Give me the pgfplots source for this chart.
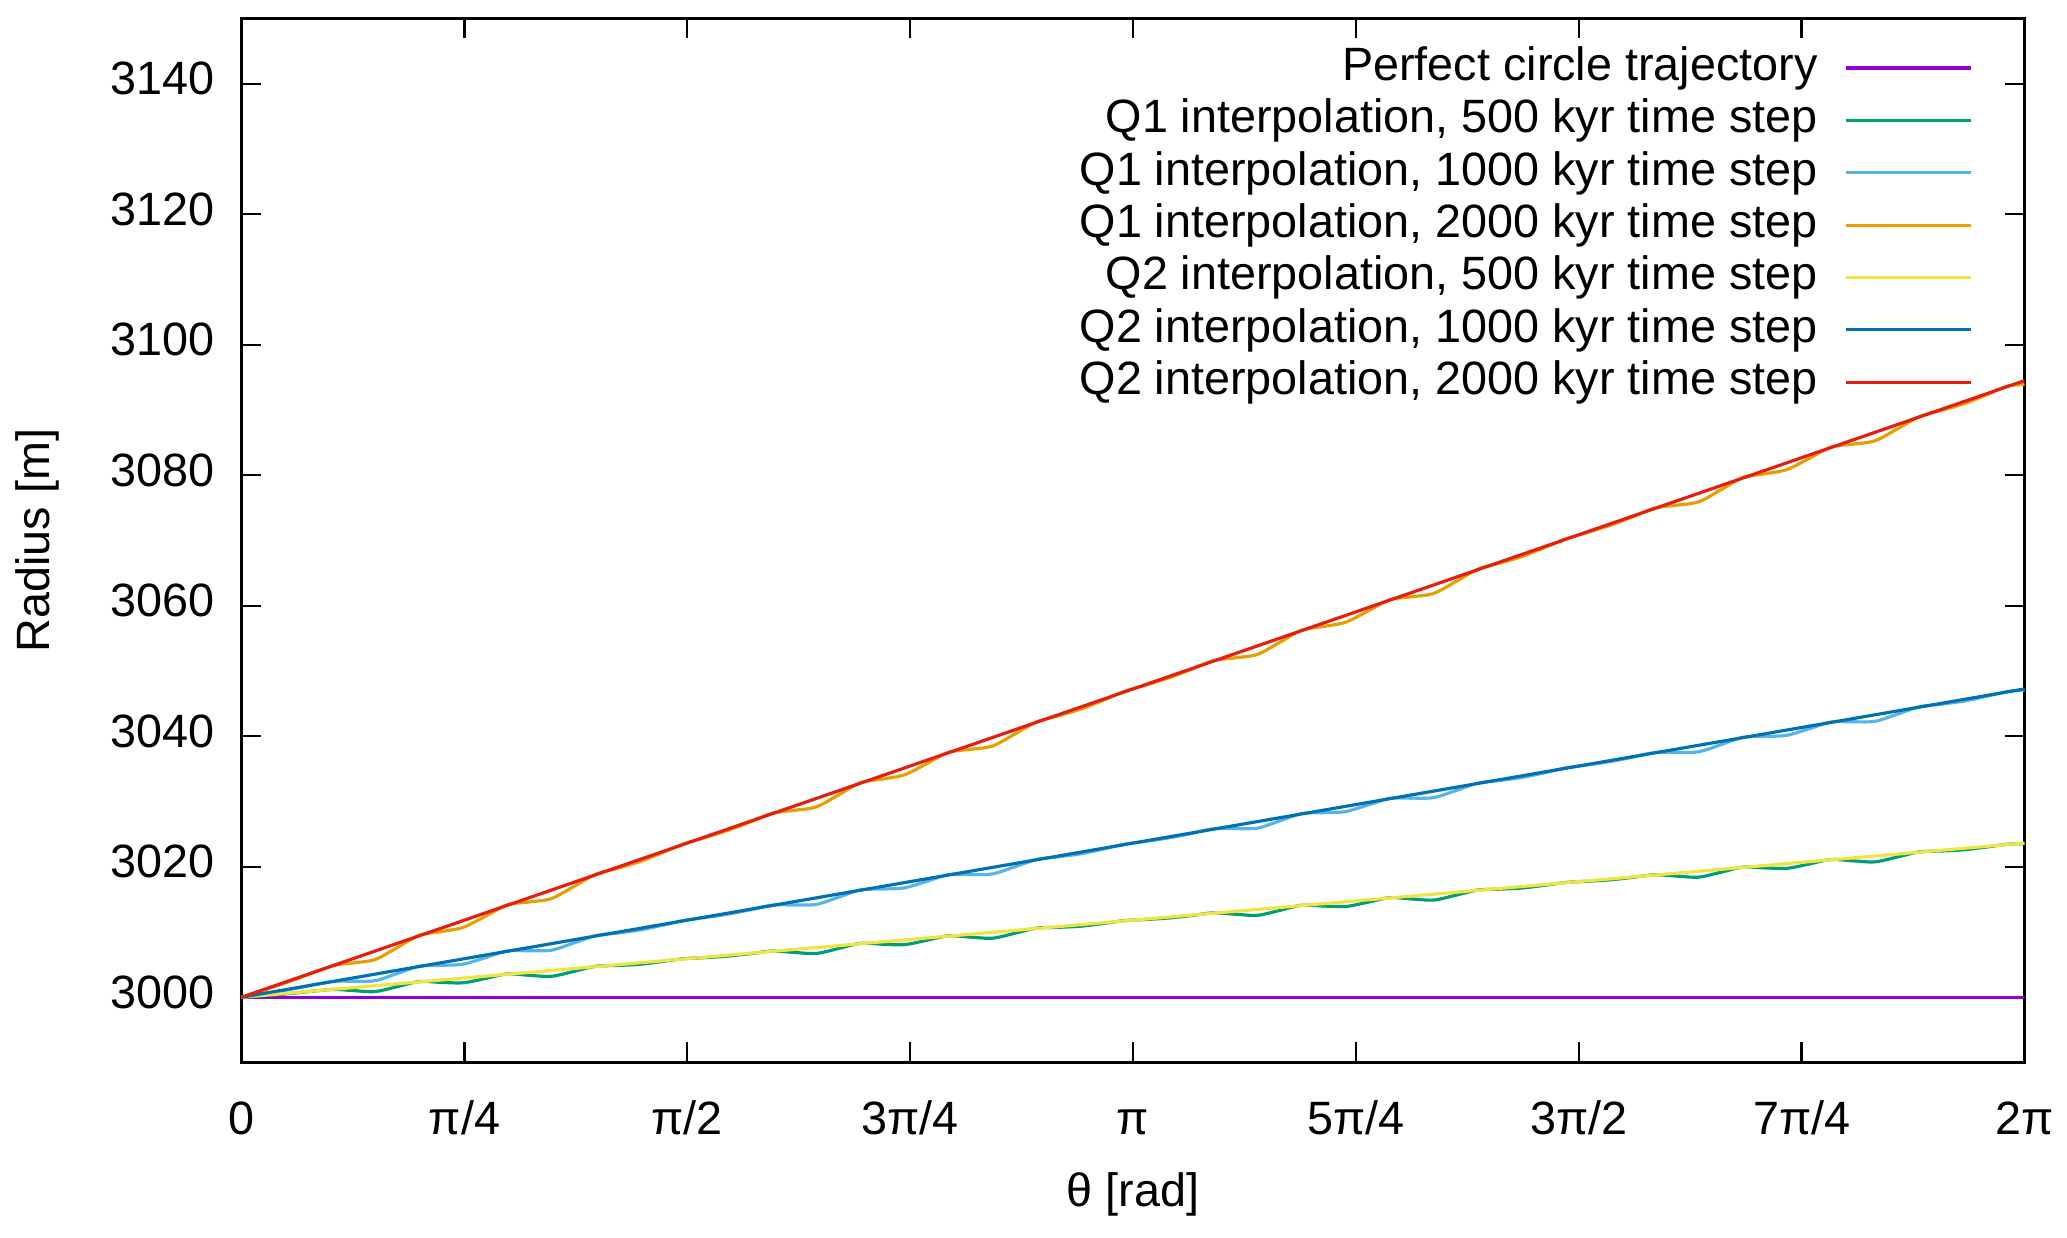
\documentclass[border=0pt]{standalone}
\usepackage{fontspec}
\setmainfont{Liberation Sans}
\usepackage{pgfplots}
\usepackage{pgfplotstable}
\pgfplotsset{compat=1.18}

\definecolor{cPurple}{HTML}{9400D3}
\definecolor{cGreen}{HTML}{009E73}
\definecolor{cLblue}{HTML}{56B4E9}
\definecolor{cOrange}{HTML}{E69F00}
\definecolor{cYellow}{HTML}{F0E442}
\definecolor{cDblue}{HTML}{0072B2}
\definecolor{cRed}{HTML}{E51E10}

% Q1 runs: theta, 500 kyr, 1000 kyr, 2000 kyr
\pgfplotstableread{
th g b o
0.0000 3000.00 3000.00 3000.00
0.1570 3000.50 3001.08 3002.23
0.3145 3001.18 3002.37 3004.73
0.3923 3001.02 3002.45 3005.25
0.4700 3000.87 3002.53 3005.77
0.5478 3001.61 3003.62 3007.59
0.6255 3002.40 3004.75 3009.48
0.7033 3002.28 3004.89 3010.06
0.7810 3002.22 3005.07 3010.71
0.8588 3002.87 3006.06 3012.40
0.9365 3003.57 3007.09 3014.16
1.0143 3003.36 3007.13 3014.60
1.0920 3003.21 3007.21 3015.12
1.1698 3003.95 3008.30 3016.94
1.2475 3004.74 3009.43 3018.83
1.3253 3004.87 3009.84 3019.77
1.4030 3005.05 3010.30 3020.77
1.4808 3005.46 3011.01 3022.11
1.5585 3005.91 3011.77 3023.51
1.6363 3006.08 3012.23 3024.51
1.7140 3006.30 3012.74 3025.58
1.7918 3006.67 3013.40 3026.85
1.8695 3007.08 3014.11 3028.19
1.9473 3006.87 3014.14 3028.64
2.0250 3006.71 3014.23 3029.16
2.1028 3007.46 3015.31 3030.98
2.1805 3008.25 3016.45 3032.86
2.2583 3008.13 3016.58 3033.44
2.3360 3008.06 3016.77 3034.09
2.4138 3008.72 3017.75 3035.78
2.4915 3009.42 3018.79 3037.54
2.5693 3009.21 3018.82 3037.99
2.6470 3009.05 3018.91 3038.51
2.7248 3009.80 3019.99 3040.33
2.8025 3010.59 3021.12 3042.22
2.8803 3010.72 3021.53 3043.16
2.9580 3010.89 3021.99 3044.16
3.0358 3011.30 3022.70 3045.50
3.1135 3011.76 3023.46 3046.90
3.1913 3011.93 3023.92 3047.90
3.2690 3012.15 3024.43 3048.97
3.3468 3012.51 3025.09 3050.24
3.4245 3012.93 3025.80 3051.57
3.5023 3012.72 3025.84 3052.02
3.5800 3012.56 3025.92 3052.54
3.6578 3013.30 3027.01 3054.36
3.7355 3014.10 3028.14 3056.25
3.8133 3013.98 3028.28 3056.83
3.8910 3013.91 3028.46 3057.48
3.9688 3014.56 3029.45 3059.17
4.0465 3015.26 3030.48 3060.93
4.1243 3015.06 3030.51 3061.38
4.2020 3014.90 3030.60 3061.90
4.2798 3015.64 3031.68 3063.72
4.3575 3016.43 3032.82 3065.61
4.4353 3016.57 3033.23 3066.55
4.5130 3016.74 3033.69 3067.55
4.5908 3017.15 3034.40 3068.89
4.6685 3017.60 3035.16 3070.28
4.7463 3017.78 3035.62 3071.28
4.8240 3018.00 3036.13 3072.35
4.9018 3018.36 3036.79 3073.62
4.9795 3018.77 3037.50 3074.96
5.0573 3018.57 3037.53 3075.41
5.1350 3018.41 3037.62 3075.93
5.2128 3019.15 3038.70 3077.75
5.2905 3019.94 3039.83 3079.64
5.3683 3019.82 3039.97 3080.22
5.4460 3019.76 3040.15 3080.87
5.5238 3020.41 3041.14 3082.56
5.6015 3021.11 3042.17 3084.32
5.6793 3020.90 3042.21 3084.77
5.7570 3020.75 3042.29 3085.29
5.8348 3021.49 3043.38 3087.10
5.9125 3022.28 3044.51 3088.99
5.9903 3022.41 3044.92 3089.93
6.0680 3022.59 3045.38 3090.93
6.1458 3023.00 3046.09 3092.27
6.2235 3023.45 3046.85 3093.67
6.2832 3023.53 3047.10 3093.90
}\qone

\begin{document}
\begin{tikzpicture}[font=\fontsize{13.3}{16}\selectfont]
\begin{axis}[
  at={(0,0)}, anchor=south west,
  scale only axis,
  width=17.83cm, height=10.44cm,
  xmin=0, xmax=6.2832,
  ymin=2990, ymax=3150,
  xtick={0,0.7854,1.5708,2.3562,3.1416,3.9270,4.7124,5.4978,6.2832},
  xticklabels={0,π/4,π/2,3π/4,π,5π/4,3π/2,7π/4,2π},
  ytick={3000,3020,...,3140},
  /pgf/number format/assume math mode=true,
  /pgf/number format/1000 sep={},
  typeset ticklabels with strut,
  tick align=inside, tick pos=both,
  major tick length=0.2cm,
  tick style={black, line width=0.7pt},
  axis line style={line width=0.9pt},
  xticklabel style={yshift=-0.2cm},
  yticklabel style={xshift=-0.15cm},
  xlabel={θ [rad]},
  ylabel={Radius [m]},
  every axis x label/.style={at={(axis description cs:0.5,0)}, anchor=center, yshift=-1.32cm},
  every axis y label/.style={at={(axis description cs:-0.1147,0.5)}, anchor=center, rotate=90},
  legend plot pos=right,
  legend cell align=right,
  legend image code/.code={\draw[#1] (0cm,0cm) -- (1.25cm,0cm);},
  legend style={draw=none, fill=none, at={(axis description cs:1,1)}, anchor=north east,
    xshift=-0.51cm, yshift=-0.26cm, inner sep=0pt, row sep=1.9pt,
    nodes={inner ysep=0pt, text height=10pt, text depth=3pt},
    /tikz/every odd column/.append style={column sep=0.2cm},
    /tikz/every even column/.append style={column sep=0cm}},
  every axis plot/.append style={line width=0.9pt},
]
\addplot[cPurple] coordinates {(0,3000) (6.2832,3000)};
\addlegendentry{Perfect circle trajectory}
\addplot[cGreen, smooth] table[x=th, y=g] {\qone};
\addlegendentry{Q1 interpolation, 500 kyr time step}
\addplot[cLblue, smooth] table[x=th, y=b] {\qone};
\addlegendentry{Q1 interpolation, 1000 kyr time step}
\addplot[cOrange, smooth] table[x=th, y=o] {\qone};
\addlegendentry{Q1 interpolation, 2000 kyr time step}
\addplot[cYellow] coordinates {(0,3000) (6.2832,3023.63)};
\addlegendentry{Q2 interpolation, 500 kyr time step}
\addplot[cDblue] coordinates {(0,3000) (6.2832,3047.25)};
\addlegendentry{Q2 interpolation, 1000 kyr time step}
\addplot[cRed] coordinates {(0,3000) (6.2832,3094.50)};
\addlegendentry{Q2 interpolation, 2000 kyr time step}
\end{axis}
\pgfresetboundingbox
\path[use as bounding box] (-2.415cm,-1.754cm) rectangle (18.255cm,10.625cm);
\end{tikzpicture}
\end{document}
